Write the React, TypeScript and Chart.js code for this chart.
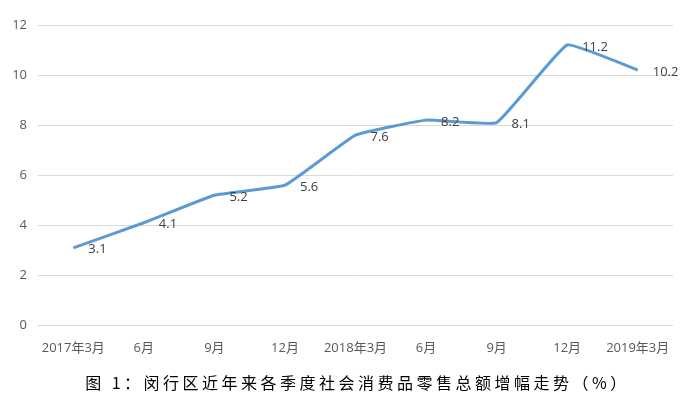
import React, { useEffect, useRef } from "react";
import { Chart, registerables } from "chart.js";

Chart.register(...registerables);

const categories = ["2017年3月", "6月", "9月", "12月", "2018年3月", "6月", "9月", "12月", "2019年3月"];
const growth = [3.1, 4.1, 5.2, 5.6, 7.6, 8.2, 8.1, 11.2, 10.2];
const yTicks = [0, 2, 4, 6, 8, 10, 12];
const titleText = "图 1：闵行区近年来各季度社会消费品零售总额增幅走势（%）";

const FONT = "'Open Sans', 'Noto Sans CJK SC', sans-serif";

const labelPlugin = {
  id: "pointLabels",
  afterDatasetsDraw(chart: any) {
    const ctx = chart.ctx;
    const meta = chart.getDatasetMeta(0);
    const data = chart.data.datasets[0].data as number[];
    ctx.save();
    ctx.font = `13px ${FONT}`;
    ctx.fillStyle = "#404040";
    ctx.textAlign = "left";
    ctx.textBaseline = "middle";
    meta.data.forEach((pt: any, i: number) => {
      ctx.fillText(data[i].toFixed(1), pt.x + 15, pt.y + 2);
    });
    ctx.restore();
  },
};

const bottomTitlePlugin = {
  id: "bottomTitle",
  afterDraw(chart: any) {
    const ctx = chart.ctx;
    const area = chart.chartArea;
    ctx.save();
    ctx.font = `16px 'Noto Sans CJK SC', sans-serif`;
    try {
      (ctx as any).letterSpacing = "3.5px";
    } catch (e) {}
    ctx.fillStyle = "#000000";
    ctx.textAlign = "center";
    ctx.textBaseline = "middle";
    ctx.fillText(titleText, (area.left + area.right) / 2 + 2, 383);
    ctx.restore();
  },
};

export default function App() {
  const ref = useRef<HTMLCanvasElement>(null);
  useEffect(() => {
    document.body.style.margin = "0";
    const chart = new Chart(ref.current!, {
      type: "line",
      data: {
        labels: categories,
        datasets: [
          {
            data: growth,
            borderColor: "#5B9BD5",
            borderWidth: 3,
            pointRadius: 0,
            tension: 0.1,
            fill: false,
          },
        ],
      },
      options: {
        animation: false,
        responsive: false,
        layout: { padding: { top: 25, right: 16, left: 0, bottom: 35 } },
        plugins: {
          legend: { display: false },
          tooltip: { enabled: false },
          title: { display: false },
        },
        scales: {
          x: {
            offset: true,
            grid: { display: false },
            border: { display: false },
            ticks: { color: "#595959", font: { family: FONT, size: 13 }, maxRotation: 0, autoSkip: false, padding: 7 },
          },
          y: {
            min: 0,
            max: 12,
            afterFit: (axis: any) => {
              axis.width = 38;
            },
            afterBuildTicks: (axis: any) => {
              axis.ticks = yTicks.map((v) => ({ value: v }));
            },
            grid: { color: "#D9D9D9", lineWidth: 1, drawTicks: false },
            border: { display: false },
            ticks: { color: "#595959", font: { family: FONT, size: 13 }, padding: 11 },
          },
        },
      },
      plugins: [labelPlugin, bottomTitlePlugin],
    });
    return () => chart.destroy();
  }, []);
  return (
    <div style={{ width: 689, height: 398, background: "#fff" }}>
      <canvas ref={ref} width={689} height={398} />
    </div>
  );
}
